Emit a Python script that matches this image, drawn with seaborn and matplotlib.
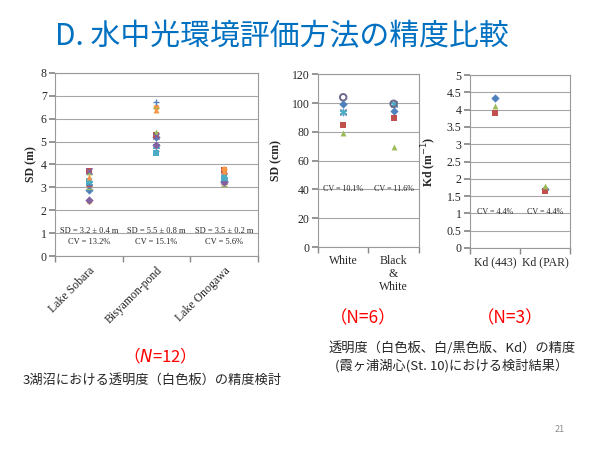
import seaborn as sns
import pandas as pd
import matplotlib.pyplot as plt

# ---- data ----
lakes = ["Lake Sobara", "Bisyamon-pond", "Lake Onogawa"]
sobara = [2.9, 3.7, 3.65, 3.7, 3.2, 2.4, 3.1, 3.05, 2.95, 2.45, 3.3, 3.45]
bisyamon = [5.2, 5.3, 5.4, 5.25, 4.8, 6.5, 6.75, 4.6, 6.45, 4.85, 4.5, 6.4]
onogawa = [3.3, 3.75, 3.6, 3.5, 3.35, 3.8, 3.2, 3.15, 3.05, 3.25, 3.4, 3.7]
lake_notes = ["SD = 3.2 \u00b1 0.4 m\nCV = 13.2%",
              "SD = 5.5 \u00b1 0.8 m\nCV = 15.1%",
              "SD = 3.5 \u00b1 0.2 m\nCV = 5.6%"]

disks = ["White", "Black\n&\nWhite"]
white = [99.5, 84.5, 79.5, 94, 94, 104]
black_white = [94.5, 89.5, 69.5, 99.5, 99.5, 99.5]
disk_notes = ["CV = 10.1%", "CV = 11.6%"]

kd_cats = ["Kd (443)", "Kd (PAR)"]
kd443 = [4.35, 3.9, 4.1]
kdpar = [1.7, 1.65, 1.78]
kd_notes = ["CV = 4.4%", "CV = 4.4%"]

# Excel 2007 default series styles
asterisk = (6, 2, 0)
markers = ["D", "s", "^", "x", asterisk, "o", "+", "_", "_", "D", "s", "^"]
colors = ["#4F81BD", "#C0504D", "#9BBB59", "#8064A2", "#4BACC6", "#F79646",
          "#4F81BD", "#C0504D", "#9BBB59", "#8064A2", "#4BACC6", "#F79646"]
line_markers = ("+", "x", "_", asterisk)

sns.set_theme(style="white")
plt.rcParams["font.family"] = ["Liberation Serif", "DejaVu Serif"]
jp = ["Noto Sans CJK JP", "DejaVu Sans"]

fig = plt.figure(figsize=(6, 4.5), dpi=100)


def style_axis(ax, cats, ymax, ystep, fmt=None):
    ax.set_xlim(-0.5, len(cats) - 0.5)
    ax.set_ylim(0, ymax)
    ticks = [i * ystep for i in range(int(round(ymax / ystep)) + 1)]
    ax.set_yticks(ticks)
    if fmt:
        ax.set_yticklabels([fmt(t) for t in ticks])
    ax.yaxis.grid(True, color="#A6A6A6", linewidth=0.8)
    ax.set_axisbelow(True)
    ax.set_xticks(range(len(cats)))
    ax.set_xticks([i - 0.5 for i in range(len(cats) + 1)], minor=True)
    ax.tick_params(axis="x", which="major", length=0, pad=6, labelsize=8.5)
    ax.tick_params(axis="x", which="minor", length=4, color="#888888",
                   direction="out", bottom=True)
    ax.tick_params(axis="y", length=4, color="#888888", labelsize=8.5,
                   direction="out", left=True, pad=2)
    for s in ax.spines.values():
        s.set_color("#999999")
        s.set_linewidth(0.8)


def draw_series(ax, cats, columns, hollow_last=False):
    n = len(columns[0])
    for k in range(n):
        df = pd.DataFrame({"cat": cats, "val": [c[k] for c in columns]})
        m = markers[k]
        if hollow_last and k == n - 1:
            sns.scatterplot(data=df, x="cat", y="val", marker="o", s=22,
                            facecolor="none", edgecolor="#6A6A8A", linewidth=1.4,
                            ax=ax, legend=False, zorder=3)
            continue
        kw = dict(s=20, linewidth=1.0) if m in line_markers else dict(s=18, linewidth=0)
        sns.scatterplot(data=df, x="cat", y="val", marker=m, color=colors[k],
                        ax=ax, legend=False, zorder=3, **kw)
    ax.set_xlabel("")


# ---- panel 1 ----
ax1 = fig.add_axes([0.0917, 0.431, 0.338, 0.407])
draw_series(ax1, lakes, [sobara, bisyamon, onogawa])
style_axis(ax1, lakes, 8, 1)
ax1.set_xticklabels(lakes, rotation=45, ha="right", rotation_mode="anchor", fontsize=8.5)
ax1.set_ylabel("SD (m)", fontsize=8.5, fontweight="bold")
ax1.yaxis.set_label_coords(-0.085, 0.5)
for i, t in enumerate(lake_notes):
    ax1.text(i, 0.85, t, ha="center", va="center", fontsize=6, linespacing=1.5)

# ---- panel 2 ----
ax2 = fig.add_axes([0.530, 0.451, 0.168, 0.384])
draw_series(ax2, disks, [white, black_white], hollow_last=True)
style_axis(ax2, disks, 120, 20)
ax2.set_xticklabels(disks, fontsize=8.5, linespacing=1.1, va="top")
ax2.set_ylabel("SD (cm)", fontsize=8.5, fontweight="bold")
ax2.yaxis.set_label_coords(-0.35, 0.5)
for i, t in enumerate(disk_notes):
    ax2.text(i, 40, t, ha="center", va="center", fontsize=5.8)

# ---- panel 3 ----
ax3 = fig.add_axes([0.783, 0.449, 0.167, 0.384])
draw_series(ax3, kd_cats, [kd443, kdpar])
style_axis(ax3, kd_cats, 5, 0.5, fmt=lambda v: f"{v:g}")
ax3.set_xticklabels(kd_cats, fontsize=8.5)
ax3.set_ylabel("Kd (m$^{-1}$)", fontsize=8.5, fontweight="bold")
ax3.yaxis.set_label_coords(-0.31, 0.5)
for i, t in enumerate(kd_notes):
    ax3.text(i, 1.05, t, ha="center", va="center", fontsize=5.8)

# ---- slide text ----
fig.text(55 / 600, 1 - 37 / 450, "D. 水中光環境評価方法の精度比較", family=jp,
         color="#0070C0", fontsize=21.5, va="center", ha="left")
fig.text(155 / 600, 1 - 356 / 450, "（$N$=12）", family=jp, color="red",
         fontsize=12, ha="center", va="center")
fig.text(152 / 600, 1 - 380 / 450, "3湖沼における透明度（白色板）の精度検討", family=jp,
         fontsize=9.5, ha="center", va="center")
fig.text(363 / 600, 1 - 318 / 450, "（N=6）", family=jp, color="red",
         fontsize=12.5, ha="center", va="center")
fig.text(510 / 600, 1 - 318 / 450, "（N=3）", family=jp, color="red",
         fontsize=12.5, ha="center", va="center")
fig.text(452 / 600, 1 - 348 / 450, "透明度（白色板、白/黒色版、Kd）の精度", family=jp,
         fontsize=9.5, ha="center", va="center")
fig.text(452 / 600, 1 - 366 / 450, "(霞ヶ浦湖心(St. 10)における検討結果）", family=jp,
         fontsize=9.5, ha="center", va="center")
fig.text(560 / 600, 1 - 430 / 450, "21", family=jp, color="#8C8C8C",
         fontsize=6.5, ha="center", va="center")

fig.savefig("out.png", dpi=100)
